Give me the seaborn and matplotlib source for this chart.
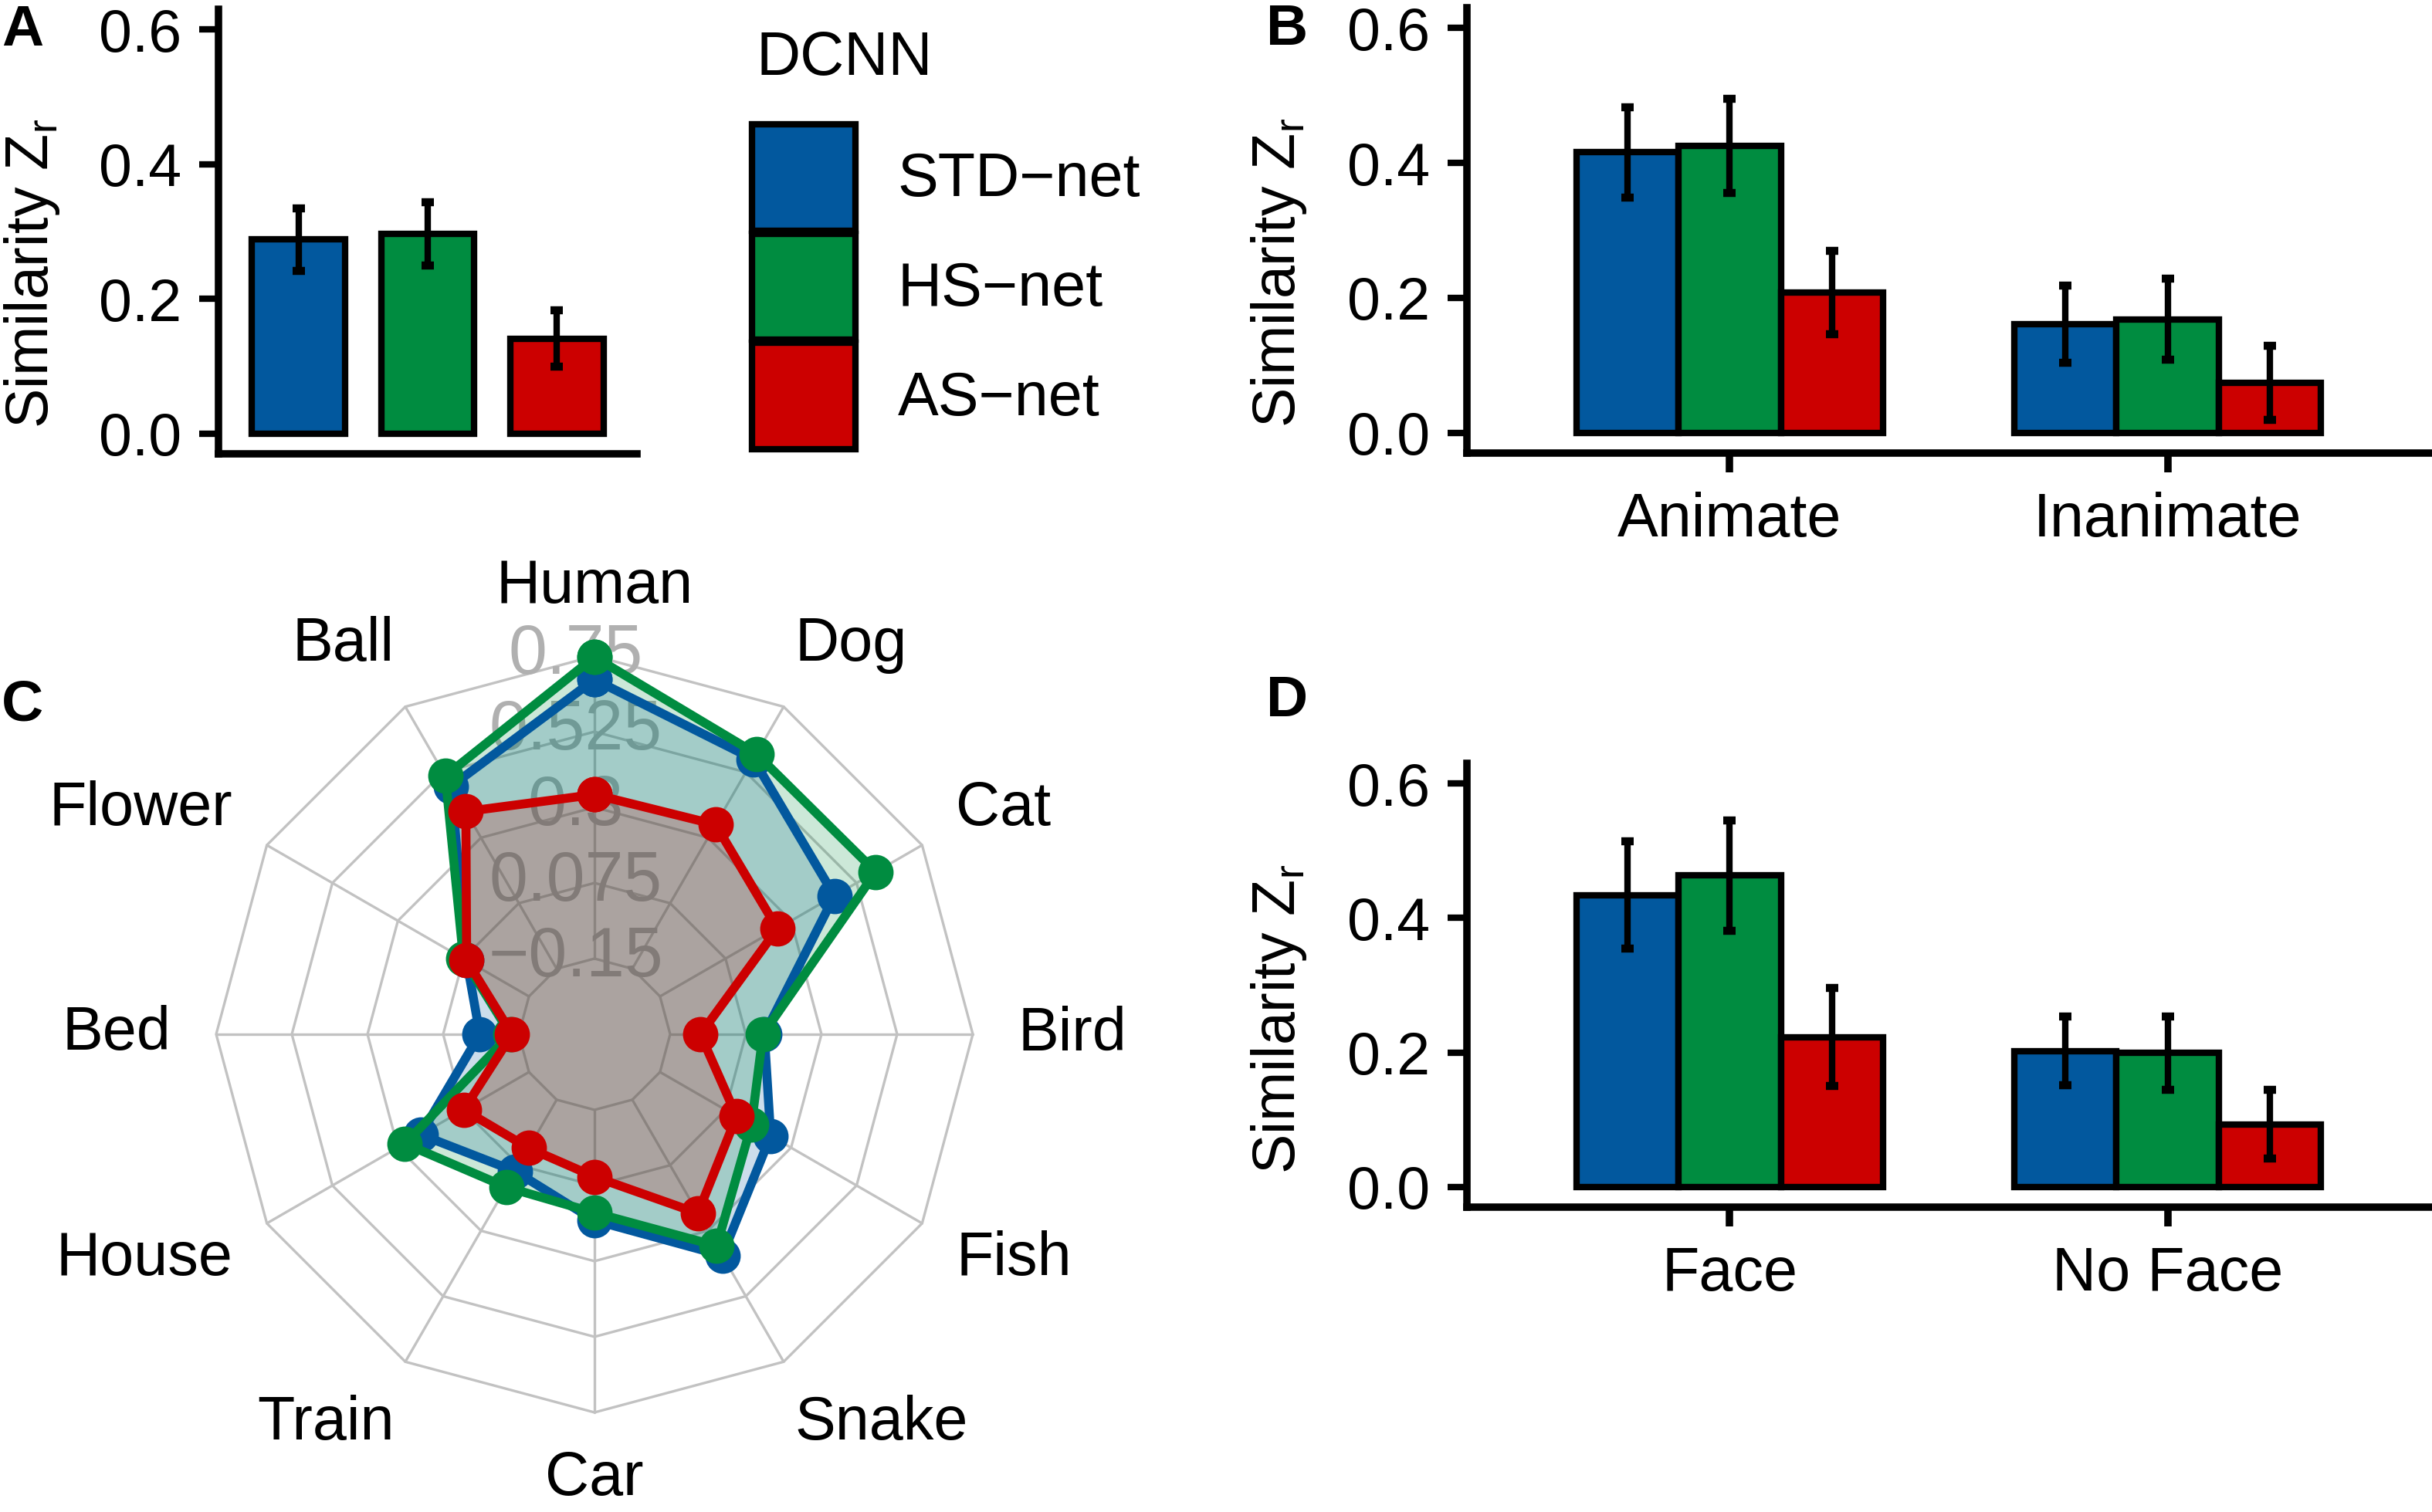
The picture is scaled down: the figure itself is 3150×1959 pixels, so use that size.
import numpy as np
import pandas as pd
import matplotlib
matplotlib.use("Agg")
import matplotlib.pyplot as plt
from matplotlib.patches import Patch
from matplotlib.ticker import FormatStrFormatter
import seaborn as sns

# networks
nets = ["STD\u2212net", "HS\u2212net", "AS\u2212net"]
net_colors = ["#02589e", "#008c40", "#cc0000"]

# A: overall similarity (mean, s.e.)
overall_mean = [0.288, 0.297, 0.141]
overall_se = [0.046, 0.047, 0.042]

# B: animacy
animacy_cats = ["Animate", "Inanimate"]
animate_mean = [0.416, 0.425, 0.208]
animate_se = [0.067, 0.070, 0.062]
inanimate_mean = [0.161, 0.168, 0.074]
inanimate_se = [0.057, 0.060, 0.055]

# D: face / no face
face_cats = ["Face", "No Face"]
face_mean = [0.434, 0.463, 0.223]
face_se = [0.080, 0.082, 0.073]
noface_mean = [0.202, 0.199, 0.093]
noface_se = [0.051, 0.054, 0.051]

# C: radar, clockwise from the top
radar_cats = ["Human", "Dog", "Cat", "Bird", "Fish", "Snake",
              "Car", "Train", "House", "Bed", "Flower", "Ball"]
radar_std = [0.680, 0.570, 0.449, 0.130, 0.230, 0.385,
             0.179, 0.096, 0.222, -0.034, 0.064, 0.477]
radar_hs = [0.747, 0.588, 0.591, 0.126, 0.164, 0.352,
            0.156, 0.150, 0.276, -0.125, 0.075, 0.512]
radar_as = [0.338, 0.345, 0.253, -0.060, 0.113, 0.240,
            0.049, 0.016, 0.074, -0.130, 0.064, 0.390]
radar_ticks = [-0.15, 0.075, 0.3, 0.525, 0.75]
radar_ticklabels = ["\u22120.15", "0.075", "0.3", "0.525", "0.75"]

sns.set_theme(style="ticks", rc={"axes.edgecolor": "black", "xtick.color": "black",
                                 "ytick.color": "black", "text.color": "black",
                                 "axes.labelcolor": "black"})
plt.rcParams["font.family"] = ["Liberation Sans", "DejaVu Sans"]
plt.rcParams["mathtext.fontset"] = "custom"
plt.rcParams["mathtext.rm"] = "Liberation Sans"
plt.rcParams["mathtext.it"] = "Liberation Sans:italic"

W, H = 3150, 1959
FS = 19
TS = 18.5
fig = plt.figure(figsize=(W / 300, H / 300), dpi=300)


def box(x0, y0, x1, y1):
    # pixel box, origin top-left -> figure fraction
    return [x0 / W, 1 - y1 / H, (x1 - x0) / W, (y1 - y0) / H]


def bar_panel(ax, df, x, order, width, dodge):
    sns.barplot(data=df, x=x, y="val", hue="net", order=order, hue_order=nets,
                palette=net_colors, saturation=1, width=width, dodge=dodge, gap=0,
                edgecolor="black", linewidth=2, errorbar=None, legend=False, ax=ax)
    bar_groups = list(ax.containers)  # one per net, before errorbars are added
    for i, cont in enumerate(bar_groups):
        sub = df[df["net"] == nets[i]]
        for bar in cont:
            if bar is None or not np.isfinite(bar.get_height()):
                continue
            row = sub.iloc[np.argmin(np.abs(sub["val"].values - bar.get_height()))]
            xc = bar.get_x() + bar.get_width() / 2
            ax.errorbar(xc, bar.get_height(), yerr=row["se"], fmt="none",
                        ecolor="black", elinewidth=2, capsize=2, capthick=2.5, zorder=5)
    ax.set_ylim(-0.03, 0.63)
    ax.set_yticks([0, 0.2, 0.4, 0.6])
    ax.yaxis.set_major_formatter(FormatStrFormatter("%.1f"))
    sns.despine(ax=ax)
    for s in ("left", "bottom"):
        ax.spines[s].set_linewidth(2.3)
    ax.tick_params(axis="y", length=6, width=2, pad=5.5, labelsize=TS)
    ax.tick_params(axis="x", length=6, width=2.3, pad=6, labelsize=FS)
    ax.set_xlabel("")
    ax.set_ylabel(r"Similarity $\mathrm{Z}_\mathrm{r}$", fontsize=TS)


# panel A
axa = fig.add_axes(box(283, 12, 825, 588))
df_a = pd.DataFrame({"net": nets, "val": overall_mean, "se": overall_se})
bar_panel(axa, df_a, "net", nets, 0.72, False)
axa.set_xlim(-0.62, 2.62)
axa.set_xticks([])
axa.yaxis.set_label_coords(-0.375, 0.406)

# panel B
axb = fig.add_axes(box(1900, 10, 3148, 587))
df_b = pd.DataFrame({"cat": np.repeat(animacy_cats, 3), "net": nets * 2,
                     "val": animate_mean + inanimate_mean,
                     "se": animate_se + inanimate_se})
bar_panel(axb, df_b, "cat", animacy_cats, 0.7, True)
axb.set_xlim(-0.6, 1.6)
axb.yaxis.set_label_coords(-0.164, 0.405)

# panel D
axd = fig.add_axes(box(1900, 989, 3148, 1564))
df_d = pd.DataFrame({"cat": np.repeat(face_cats, 3), "net": nets * 2,
                     "val": face_mean + noface_mean,
                     "se": face_se + noface_se})
bar_panel(axd, df_d, "cat", face_cats, 0.7, True)
axd.set_xlim(-0.6, 1.6)
axd.yaxis.set_label_coords(-0.164, 0.424)

# legend
handles = [Patch(facecolor=c, edgecolor="black", linewidth=2) for c in net_colors]
fig.legend(handles, nets, loc="upper left", bbox_to_anchor=(974 / W, 1 - 161 / H),
           frameon=False, fontsize=FS, handlelength=1.69, handleheight=2.30,
           handletextpad=0.69, labelspacing=0.05, borderpad=0, borderaxespad=0)
fig.text(979 / W, 1 - 97 / H, "DCNN", fontsize=FS, va="baseline", ha="left")

# panel C: radar
axc = fig.add_axes(box(0, 720, 1540, 1959))
axc.set_xlim(-1.5714, 1.5714)
axc.set_ylim(-1.2633, 1.2653)
axc.axis("off")

n = len(radar_cats)
theta = np.pi / 2 - 2 * np.pi * np.arange(n) / n
vmin, vmax = radar_ticks[0], radar_ticks[-1]


def rad(v):
    return 0.2 + 0.8 * (np.asarray(v) - vmin) / (vmax - vmin)


closed = np.append(theta, theta[0])
for t, lab in zip(radar_ticks, radar_ticklabels):
    r = rad(t)
    axc.plot(r * np.cos(closed), r * np.sin(closed), color="#c2c2c2", lw=0.8, zorder=1)
    axc.text(-0.05, r, lab, ha="center", va="center", fontsize=21.5,
             color="#b0b0b0", zorder=2)
for th in theta:
    axc.plot([0.2 * np.cos(th), np.cos(th)], [0.2 * np.sin(th), np.sin(th)],
             color="#c2c2c2", lw=0.8, zorder=1)

for vals, col in zip([radar_std, radar_hs, radar_as], net_colors):
    r = rad(vals)
    xs, ys = r * np.cos(theta), r * np.sin(theta)
    axc.fill(xs, ys, color=col, alpha=0.2, lw=0, zorder=3)
    axc.plot(np.append(xs, xs[0]), np.append(ys, ys[0]), color=col, lw=2.8,
             marker="o", ms=10, zorder=4)

for name, th in zip(radar_cats, theta):
    c, s = np.cos(th), np.sin(th)
    if abs(c) < 0.01:
        if s > 0:
            axc.text(0, 1.14, name, ha="center", va="baseline", fontsize=FS)
        else:
            axc.text(0, -1.10, name, ha="center", va="top", fontsize=FS)
    else:
        kx = 1.0 + 0.12 * abs(c)
        axc.text(kx * c, 1.19 * s, name,
                 ha="left" if c > 0 else "right", va="center", fontsize=FS)

# panel letters
for letter, x, y in [("A", 2, 59), ("B", 1640, 58), ("C", 2, 933), ("D", 1640, 928)]:
    fig.text(x / W, 1 - y / H, letter, fontsize=18, fontweight="bold",
             va="baseline", ha="left")

fig.savefig("out.png", dpi=300)
